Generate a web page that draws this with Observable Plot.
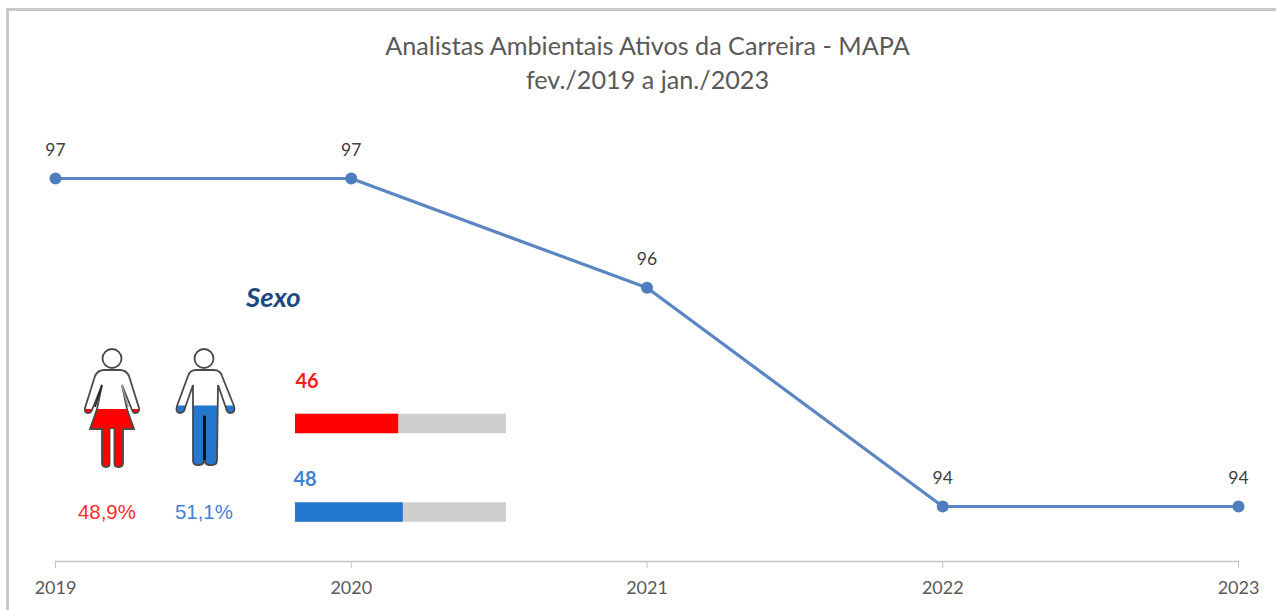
<!DOCTYPE html>
<html lang="pt">
<head>
<meta charset="utf-8">
<script src="https://cdn.jsdelivr.net/npm/d3@7"></script>
<script src="https://cdn.jsdelivr.net/npm/@observablehq/plot@0.6"></script>
<style>
  html, body { margin: 0; padding: 0; background: #fff; }
  #page { position: relative; width: 1276px; height: 610px; overflow: hidden; font-family: Lato, sans-serif; }
  #edge { position: absolute; left: 6px; top: 8px; right: -4px; bottom: -4px; border-left: 3px solid #c8c8c8; border-top: 3px solid #c8c8c8; }
  #title { position: absolute; left: 0; top: 28px; width: 1295px; height: 81px; margin: 0; text-align: center; font-weight: 400; font-size: 25.2px; line-height: 34px; color: #595959; }
  #main { position: absolute; left: 0; top: 110px; }
  #inset { position: absolute; left: 280px; top: 360px; }
  #figures { position: absolute; left: 60px; top: 340px; }
  #sexo { position: absolute; left: 246px; top: 280px; font-size: 27.5px; font-weight: 700; font-style: italic; color: #1F497D; }
  .pct { position: absolute; top: 501px; font-family: "Liberation Sans", sans-serif; font-size: 20.4px; }
</style>
</head>
<body>
<div id="page">
  <div id="edge"></div>
  <h1 id="title">Analistas Ambientais Ativos da Carreira - MAPA<br>fev./2019 a jan./2023</h1>
  <div id="main"></div>
  <div id="sexo">Sexo</div>
  <svg id="figures" width="190" height="135" viewBox="60 340 190 135">
    <defs>
      <path id="woman" d="M104 370H120Q126 370 129 376L139 408Q140 413 135 413Q133 413 132 410L122 385L127 409L134 429H123V463Q123 467 119 467H118Q114 467 114 463V429H110V463Q110 467 106 467Q102 467 102 463V429H90L97 409L102 385L92 410Q91 413 88 413Q84 413 85 408L95 376Q98 370 104 370Z"/>
      <path id="man" d="M196 370H214Q220 370 222 376L234 406Q236 413 230 413Q227 413 226 408L218 385L217 460Q217 465 212 465H209Q205 465 205 460V416H204V460Q204 465 199 465H197Q193 465 193 460V385L185 408Q184 413 180 413Q175 413 177 406L188 376Q190 370 196 370Z"/>
      <clipPath id="womanFill"><rect x="60" y="409" width="100" height="70"/></clipPath>
      <clipPath id="manFill"><rect x="160" y="405.5" width="90" height="70"/></clipPath>
    </defs>
    <circle cx="112" cy="358.5" r="9.5" fill="#fff" stroke="#4a4a4a" stroke-width="1.8"/>
    <use href="#woman" fill="#fff"/>
    <use href="#woman" fill="#FF0000" clip-path="url(#womanFill)"/>
    <use href="#woman" fill="none" stroke="#4a4a4a" stroke-width="1.8"/>
    <path d="M102 385L95 407" stroke="#222" stroke-width="1.5"/>
    <path d="M122 385L128 407" stroke="#999" stroke-width="1.5"/>
    <path d="M112 429V467" stroke="#fff" stroke-width="3"/>
    <circle cx="204" cy="358.5" r="9.5" fill="#fff" stroke="#4a4a4a" stroke-width="1.8"/>
    <use href="#man" fill="#fff"/>
    <use href="#man" fill="#2477CF" clip-path="url(#manFill)"/>
    <use href="#man" fill="none" stroke="#4a4a4a" stroke-width="1.8"/>
    <path d="M204.5 416V460" stroke="#111" stroke-width="3"/>
  </svg>
  <div class="pct" style="left:78px;color:#FF2A2A">48,9%</div>
  <div class="pct" style="left:175px;color:#3F82D6">51,1%</div>
  <div id="inset"></div>
</div>
<script>
const years = [2019, 2020, 2021, 2022, 2023];
const actives = [97, 97, 96, 94, 94];
const sexes = ["Feminino", "Masculino"];
const counts = [46, 48];
const shares = [48.9, 51.1];
const sexColors = ["#FF0000", "#2477CF"];
const labelColors = ["#FF1A1A", "#3F82D6"];
const fullShare = 100;

const series = years.map((year, i) => ({year, value: actives[i]}));
const sexRows = sexes.map((sex, i) => ({sex, count: counts[i], share: shares[i], label: labelColors[i]}));

const main = Plot.plot({
  width: 1276,
  height: 500,
  marginLeft: 55,
  marginRight: 38,
  marginTop: 20,
  marginBottom: 49,
  style: {background: "transparent", fontFamily: "Lato, sans-serif", overflow: "visible"},
  x: {type: "linear", domain: [2019, 2023], label: null},
  y: {domain: [97, 94], range: [68, 396], axis: null, label: null},
  marks: [
    Plot.frame({anchor: "bottom", stroke: "#c4c4c4", strokeWidth: 1.5, strokeOpacity: 1}),
    Plot.axisX({
      ticks: years,
      tickFormat: d => String(d),
      tickSize: 7,
      tickPadding: 13,
      stroke: "#c4c4c4",
      fill: "#595959",
      fontSize: 18,
      label: null
    }),
    Plot.line(series, {x: "year", y: "value", stroke: "#5A86C4", strokeWidth: 3.2}),
    Plot.dot(series, {x: "year", y: "value", r: 6, fill: "#4F7EBE", stroke: "none"}),
    Plot.text(series, {x: "year", y: "value", text: d => String(d.value), dy: -28, fontSize: 17.5, fill: "#404040"})
  ]
});
document.getElementById("main").append(main);

const inset = Plot.plot({
  width: 240,
  height: 170,
  margin: 0,
  style: {background: "transparent", fontFamily: "Lato, sans-serif"},
  x: {domain: [0, fullShare], range: [15, 226], axis: null, label: null},
  y: {type: "band", domain: sexes, range: [53.75, 161.75], paddingInner: 0.78, paddingOuter: 0, round: false, axis: null, label: null},
  color: {domain: sexes, range: sexColors},
  marks: [
    Plot.barX(sexRows, {x: () => fullShare, y: "sex", fill: "#CFCFCF"}),
    Plot.barX(sexRows, {x: "share", y: "sex", fill: "sex"}),
    Plot.text(sexRows.slice(0, 1), {
      x: 0, y: "sex", text: d => String(d.count), dy: -42, textAnchor: "start",
      fontSize: 20, fontWeight: 700, fill: "label"
    }),
    Plot.text(sexRows.slice(1), {
      x: 0, y: "sex", text: d => String(d.count), dy: -33, dx: -2, textAnchor: "start",
      fontSize: 20, fontWeight: 700, fill: "label"
    })
  ]
});
document.getElementById("inset").append(inset);
</script>
</body>
</html>
